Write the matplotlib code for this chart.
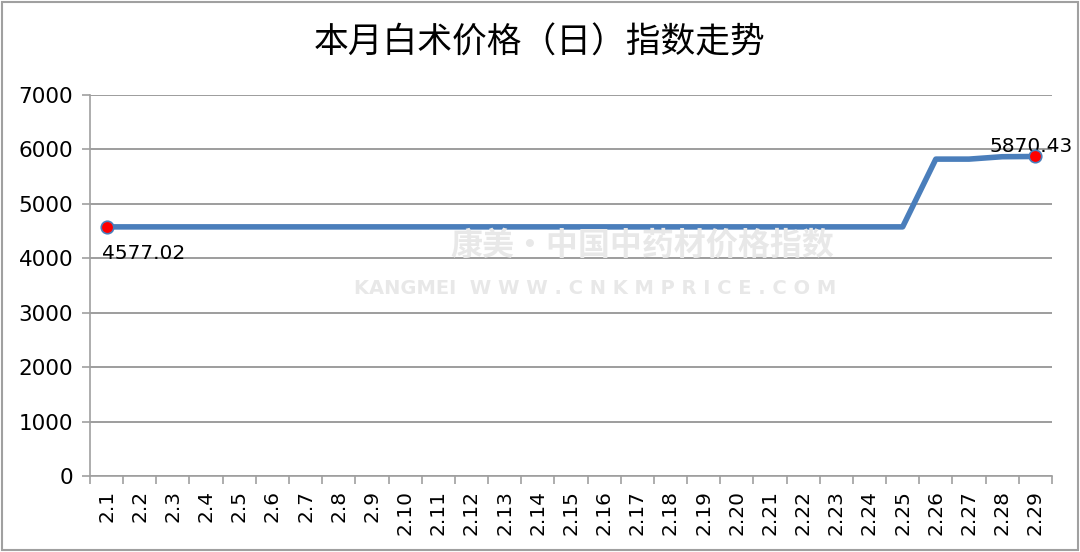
import matplotlib
matplotlib.use("Agg")
import matplotlib.pyplot as plt
from matplotlib.patches import Rectangle

plt.rcParams["font.family"] = ["Noto Sans CJK SC", "DejaVu Sans"]

# === Data ===
dates = ["2.%d" % d for d in range(1, 30)]
values = [4577.02] * 25 + [5822.0, 5822.0, 5866.0, 5870.43]
title = "本月白术价格（日）指数走势"

fig = plt.figure(figsize=(10.8, 5.52), dpi=100)
ax = fig.add_axes([0.0833, 0.1377, 0.8907, 0.6902])

x = list(range(len(dates)))
ax.plot(x, values, color="#4a7ebb", lw=4, solid_joinstyle="round", zorder=3)
for i in (0, len(values) - 1):
    ax.plot(x[i], values[i], "o", ms=9, mfc="red", mec="#4a7ebb", mew=1.2, zorder=4)

ax.annotate("%.2f" % values[0], (x[0], values[0]), xytext=(-3, -23),
            textcoords="offset points", fontsize=14.5, family="DejaVu Sans")
ax.annotate("%.2f" % values[-1], (x[-1], values[-1]), xytext=(-33, 3),
            textcoords="offset points", fontsize=14.5, family="DejaVu Sans")

ax.set_xlim(-0.5, len(dates) - 0.5)
ax.set_ylim(0, 7000)
ax.set_yticks(range(0, 7001, 1000))
ax.set_xticks(x)
ax.set_xticklabels(dates, rotation=90, fontsize=14.5, family="DejaVu Sans")
ax.tick_params(axis="x", length=0, pad=10)
ax.set_xticks([i - 0.5 for i in range(len(dates) + 1)], minor=True)
ax.tick_params(axis="x", which="minor", length=6, color="#a0a0a0", width=1.2)
ax.tick_params(axis="y", labelsize=15.5, length=6, color="#a0a0a0", width=1.2, pad=6)
for lab in ax.get_yticklabels():
    lab.set_family("DejaVu Sans")
ax.grid(axis="y", color="#8c8c8c", lw=1.2)
ax.set_axisbelow(True)
for s in ("top", "right"):
    ax.spines[s].set_visible(False)
for s in ("left", "bottom"):
    ax.spines[s].set_color("#a0a0a0")
    ax.spines[s].set_linewidth(1.2)

fig.text(0.5, 0.922, title, ha="center", va="center", fontsize=25)

# watermark
fig.text(0.595, 0.555, "康美·中国中药材价格指数", ha="center", va="center",
         fontsize=23, weight="bold", color="#e8e8e8", zorder=0)
fig.text(0.551, 0.478, "KANGMEI  W W W . C N K M P R I C E . C O M", ha="center",
         va="center", fontsize=14, weight="bold", color="#e8e8e8", zorder=0,
         family="DejaVu Sans")

fig.patches.append(Rectangle((0.002, 0.003), 0.996, 0.994, transform=fig.transFigure,
                             fill=False, ec="#a0a0a0", lw=1.5))

fig.savefig("out.png", dpi=100)
